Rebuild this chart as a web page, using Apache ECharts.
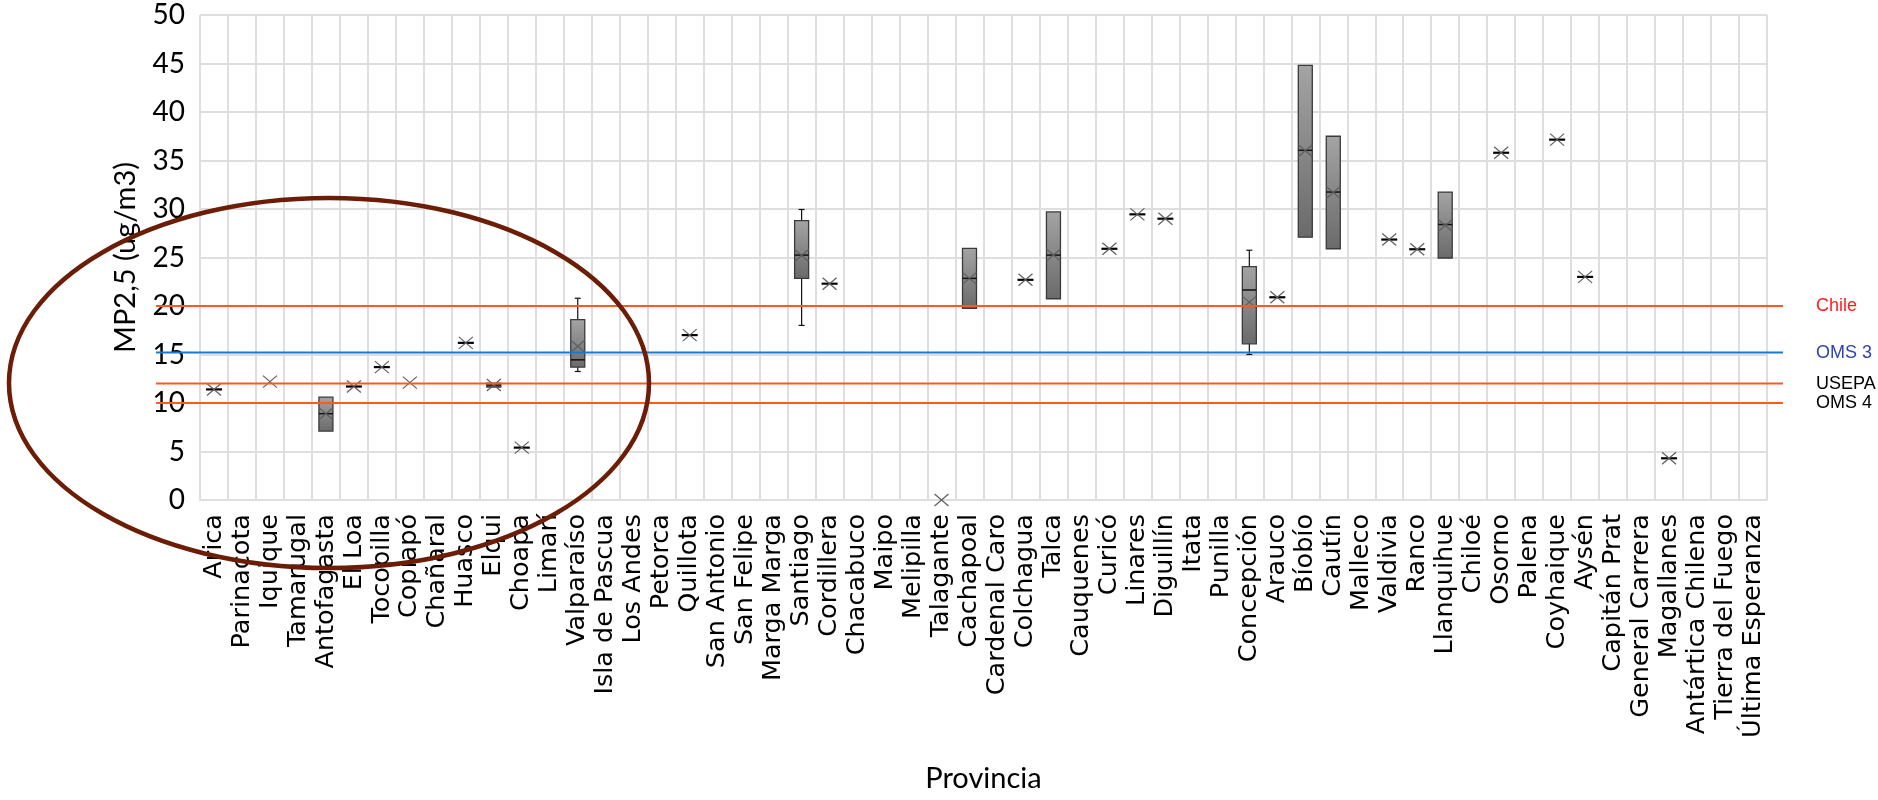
<!DOCTYPE html>
<html>
<head>
<meta charset="utf-8">
<script src="https://cdn.jsdelivr.net/npm/echarts@6.0.0/dist/echarts.min.js"></script>
<style>
html,body{margin:0;padding:0;background:#fff;}
#chart{width:1878px;height:800px;}
</style>
</head>
<body>
<div id="chart"></div>
<script>
// ---------- DATA ----------
const provinces = ['Arica','Parinacota','Iquique','Tamarugal','Antofagasta','El Loa','Tocopilla','Copiapó','Chañaral','Huasco',
  'Elqui','Choapa','Limarí','Valparaíso','Isla de Pascua','Los Andes','Petorca','Quillota','San Antonio','San Felipe',
  'Marga Marga','Santiago','Cordillera','Chacabuco','Maipo','Melipilla','Talagante','Cachapoal','Cardenal Caro','Colchagua',
  'Talca','Cauquenes','Curicó','Linares','Diguillín','Itata','Punilla','Concepción','Arauco','Bíobío',
  'Cautín','Malleco','Valdivia','Ranco','Llanquihue','Chiloé','Osorno','Palena','Coyhaique','Aysén',
  'Capitán Prat','General Carrera','Magallanes','Antártica Chilena','Tierra del Fuego','Última Esperanza'];

// median (or the single value when a province has only one station)
const medians = [
  11.4, null, null, null, 8.9, 11.7, 13.7, null, null, 16.2,
  11.85, 5.4, null, 14.45, null, null, null, 17.0, null, null,
  null, 25.25, 22.3, null, null, null, null, 22.85, null, 22.7,
  25.25, null, 25.9, 29.45, 29.0, null, null, 21.65, 20.9, 36.05,
  31.75, null, 26.85, 25.85, 28.4, null, 35.8, null, 37.15, 23.0,
  null, null, 4.3, null, null, null];

const means = [
  11.4, null, 12.2, null, 8.9, 11.7, 13.7, 12.1, null, 16.2,
  11.85, 5.4, null, 15.85, null, null, null, 17.0, null, null,
  null, 25.2, 22.3, null, null, null, 0, 22.85, null, 22.7,
  25.25, null, 25.9, 29.45, 29.0, null, null, 20.4, 20.9, 36.0,
  31.7, null, 26.85, 25.85, 28.3, null, 35.8, null, 37.15, 23.0,
  null, null, 4.3, null, null, null];

const q1 = [
  null, null, null, null, 7.1, null, null, null, null, null,
  11.65, null, null, 13.7, null, null, null, null, null, null,
  null, 22.85, null, null, null, null, null, 19.75, null, null,
  20.75, null, null, null, null, null, null, 16.1, null, 27.1,
  25.9, null, null, null, 24.95, null, null, null, null, null,
  null, null, null, null, null, null];

const q3 = [
  null, null, null, null, 10.6, null, null, null, null, null,
  12.05, null, null, 18.6, null, null, null, null, null, null,
  null, 28.8, null, null, null, null, null, 25.95, null, null,
  29.7, null, null, null, null, null, null, 24.05, null, 44.8,
  37.5, null, null, null, 31.75, null, null, null, null, null,
  null, null, null, null, null, null];

const whiskerLow = [
  null, null, null, null, null, null, null, null, null, null,
  null, null, null, 13.25, null, null, null, null, null, null,
  null, 18.0, null, null, null, null, null, null, null, null,
  null, null, null, null, null, null, null, 15.0, null, null,
  null, null, null, null, null, null, null, null, null, null,
  null, null, null, null, null, null];

const whiskerHigh = [
  null, null, null, null, null, null, null, null, null, null,
  null, null, null, 20.8, null, null, null, null, null, null,
  null, 29.95, null, null, null, null, null, null, null, null,
  null, null, null, null, null, null, null, 25.75, null, null,
  null, null, null, null, null, null, null, null, null, null,
  null, null, null, null, null, null];

const yTicks = {min: 0, max: 50, interval: 5};

const refNames = ['Chile', 'OMS 3', 'USEPA', 'OMS 4'];
const refValues = [20, 15.2, 12, 10];
const refLineColors = ['#FF5A1A', '#1C78C8', '#FF5A1A', '#FF5A1A'];
const refTextColors = ['#FF1E1E', '#2E44B0', '#000000', '#000000'];

// ---------- BUILD SERIES DATA ----------
const boxData = [], dashData = [], meanData = [], whiskerData = [];
provinces.forEach((p, i) => {
  if (q1[i] != null) boxData.push([i, q1[i], q3[i], medians[i]]);
  else if (medians[i] != null) dashData.push([i, medians[i]]);
  if (means[i] != null) meanData.push([i, means[i]]);
  if (whiskerLow[i] != null) whiskerData.push([i, whiskerLow[i], q1[i], q3[i], whiskerHigh[i]]);
});

const BOXW = 14;

function renderWhisker(params, api) {
  const i = api.value(0);
  const x = api.coord([i, 0])[0];
  const yLow = api.coord([i, api.value(1)])[1];
  const yQ1 = api.coord([i, api.value(2)])[1];
  const yQ3 = api.coord([i, api.value(3)])[1];
  const yHigh = api.coord([i, api.value(4)])[1];
  const st = {stroke: '#111', lineWidth: 1.2};
  return {type: 'group', children: [
    {type: 'line', shape: {x1: x, y1: yQ3, x2: x, y2: yHigh}, style: st},
    {type: 'line', shape: {x1: x - 3, y1: yHigh, x2: x + 3, y2: yHigh}, style: st},
    {type: 'line', shape: {x1: x, y1: yQ1, x2: x, y2: yLow}, style: st},
    {type: 'line', shape: {x1: x - 3, y1: yLow, x2: x + 3, y2: yLow}, style: st}
  ]};
}

function renderBox(params, api) {
  const i = api.value(0);
  const x = api.coord([i, 0])[0];
  const yA = api.coord([i, api.value(1)])[1];
  const yB = api.coord([i, api.value(2)])[1];
  const yM = api.coord([i, api.value(3)])[1];
  const top = Math.min(yA, yB), h = Math.abs(yA - yB);
  return {type: 'group', children: [
    {type: 'rect', shape: {x: x - BOXW / 2, y: top, width: BOXW, height: h},
     style: {fill: new echarts.graphic.LinearGradient(0, 0, 0, 1, [
        {offset: 0, color: '#A4A4A4'}, {offset: 1, color: '#6A6A6A'}]),
       stroke: '#3A3A3A', lineWidth: 1.3}},
    {type: 'line', shape: {x1: x - BOXW / 2, y1: yM, x2: x + BOXW / 2, y2: yM},
     style: {stroke: '#111', lineWidth: 1.5}}
  ]};
}

function renderDash(params, api) {
  const i = api.value(0);
  const p = api.coord([i, api.value(1)]);
  return {type: 'line', shape: {x1: p[0] - 8, y1: p[1], x2: p[0] + 8, y2: p[1]},
    style: {stroke: '#000', lineWidth: 2.2}};
}

function renderMean(params, api) {
  const i = api.value(0);
  const p = api.coord([i, api.value(1)]);
  const st = {stroke: '#5E5E5E', lineWidth: 1.2};
  return {type: 'group', children: [
    {type: 'line', shape: {x1: p[0] - 7, y1: p[1] - 6, x2: p[0] + 7, y2: p[1] + 6}, style: st},
    {type: 'line', shape: {x1: p[0] + 7, y1: p[1] - 6, x2: p[0] - 7, y2: p[1] + 6}, style: st}
  ]};
}

const refSeries = refValues.map((v, k) => ({
  type: 'line', xAxisIndex: 1, yAxisIndex: 1, silent: true, z: 6,
  data: [[0, v], [1, v]], symbol: 'none', animation: false,
  lineStyle: {color: refLineColors[k], width: 2},
  endLabel: {show: true, formatter: refNames[k], color: refTextColors[k],
    fontFamily: 'Liberation Sans, Arial, sans-serif', fontSize: 18, distance: 33}
}));

const gridColor = '#DEDEDE';

const option = {
  animation: false,
  backgroundColor: '#ffffff',
  grid: [
    {left: 200, right: 111, top: 15, bottom: 300, containLabel: false},
    {left: 156, right: 95, top: 15, bottom: 300, containLabel: false}
  ],
  xAxis: [
    {type: 'category', data: provinces, gridIndex: 0, boundaryGap: true,
     axisTick: {show: false},
     axisLine: {show: true, lineStyle: {color: gridColor, width: 2}},
     splitLine: {show: true, interval: 0, lineStyle: {color: gridColor, width: 2}},
     axisLabel: {interval: 0, rotate: 90, margin: 14, color: '#000',
       fontFamily: 'DejaVu Sans', fontSize: 25.5},
     name: 'Provincia', nameLocation: 'middle', nameGap: 264,
     nameTextStyle: {fontFamily: 'Lato', fontSize: 29, color: '#000'}},
    {type: 'value', gridIndex: 1, min: 0, max: 1, show: false}
  ],
  yAxis: [
    {type: 'value', gridIndex: 0, min: yTicks.min, max: yTicks.max, interval: yTicks.interval,
     axisLine: {show: false}, axisTick: {show: false},
     splitLine: {show: true, lineStyle: {color: gridColor, width: 2}},
     axisLabel: {margin: 15, color: '#000', fontFamily: 'Lato', fontSize: 28, padding: [8, 0, 0, 0]},
     name: 'MP2,5 (ug/m3)', nameLocation: 'middle', nameGap: 60,
     nameTextStyle: {fontFamily: 'Lato', fontSize: 29, color: '#000'}},
    {type: 'value', gridIndex: 1, min: yTicks.min, max: yTicks.max, show: false}
  ],
  series: [
    {type: 'custom', name: 'whiskers', renderItem: renderWhisker, data: whiskerData, z: 2,
     encode: {x: 0, y: [1, 4]}, silent: true},
    {type: 'custom', name: 'boxes', renderItem: renderBox, data: boxData, z: 3,
     encode: {x: 0, y: [1, 2]}, silent: true},
    {type: 'custom', name: 'single', renderItem: renderDash, data: dashData, z: 4,
     encode: {x: 0, y: 1}, silent: true},
    {type: 'custom', name: 'mean', renderItem: renderMean, data: meanData, z: 5,
     encode: {x: 0, y: 1}, silent: true}
  ].concat(refSeries),
  graphic: [
    {type: 'ellipse', z: 100, silent: true,
     shape: {cx: 329, cy: 383, rx: 320, ry: 185},
     style: {fill: null, stroke: '#6B1D06', lineWidth: 4.5}}
  ]
};

const chart = echarts.init(document.getElementById('chart'), null, {renderer: 'canvas'});
chart.setOption(option);
</script>
</body>
</html>
